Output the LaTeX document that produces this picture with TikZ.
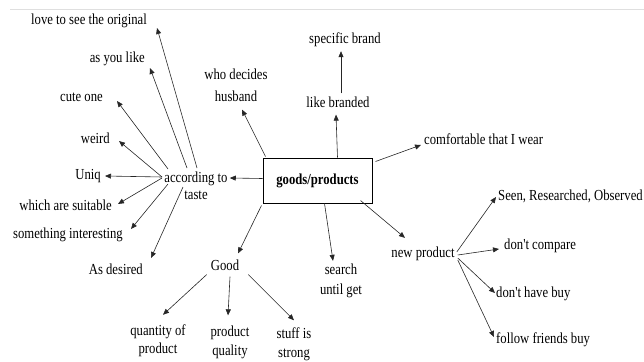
\documentclass[tikz,border=0pt]{standalone}
\usepackage{fontspec}
\setmainfont[FakeStretch=0.83,Ligatures=TeXOff]{Liberation Serif}
\usetikzlibrary{arrows.meta}
\begin{document}
\begin{tikzpicture}[x=1pt,y=-1pt,
  lbl/.style={inner sep=0pt, font=\fontsize{15.3}{17}\selectfont, align=center},
  arr/.style={-{Triangle[length=6pt,width=5pt]}, line width=0.6pt, draw=black!85},
  hub/.style={draw, line width=1pt, inner sep=0pt, minimum width=109pt, minimum height=45pt, font=\fontsize{15.3}{17}\selectfont\bfseries}]
\useasboundingbox (0,0) rectangle (644,361);
\draw[gray!25, line width=0.8pt] (10,9) -- (644,9);

% hub
\node[hub] (goods) at (317.5,180.5) {goods/products};

% according to
\node[lbl] (acc) at (196,186) {according to\\taste};
\node[lbl, anchor=east] (orig) at (147,21) {love to see the original};
\node[lbl, anchor=east] (asyou) at (145,59) {as you like};
\node[lbl, anchor=east] (cute) at (103,97) {cute one};
\node[lbl, anchor=east] (weird) at (110,138) {weird};
\node[lbl, anchor=east] (uniq) at (101,176) {Uniq};
\node[lbl, anchor=east] (suit) at (112,205) {which are suitable};
\node[lbl, anchor=east] (interest) at (123,235) {something interesting};
\node[lbl, anchor=east] (desired) at (143,269) {As desired};

% top
\node[lbl, font=\fontsize{15.3}{22}\selectfont] (who) at (236,85) {who decides\\husband};
\node[lbl] (liked) at (338,102) {like branded};
\node[lbl] (spec) at (345,40) {specific brand};
\node[lbl, anchor=west] (comf) at (424,139) {comfortable that I wear};

% bottom
\node[lbl, font=\fontsize{15.3}{20}\selectfont] (search) at (341,281) {search\\until get};
\node[lbl] (good) at (225,265) {Good};
\node[lbl, font=\fontsize{15.3}{18}\selectfont] (qty) at (158,341) {quantity of\\product};
\node[lbl, font=\fontsize{15.3}{19}\selectfont] (pq) at (230,342) {product\\quality};
\node[lbl, font=\fontsize{15.3}{19}\selectfont] (stuff) at (294,344) {stuff is\\strong};

% new product
\node[lbl] (newp) at (423,254) {new product};
\node[lbl, anchor=west] (seen) at (498,196) {Seen, Researched, Observed};
\node[lbl, anchor=west] (comp) at (504,246) {don't compare};
\node[lbl, anchor=west] (have) at (496,294) {don't have buy};
\node[lbl, anchor=west] (follow) at (496,340) {follow friends buy};

% connectors from hub
\draw[arr] ([shift={(0,-2)}]goods.west) -- ([shift={(2,-8)}]acc.east);
\draw[arr] ([shift={(3,-1)}]goods.north west) -- ([shift={(6,8)}]who.south);
\draw[arr] ([shift={(20,0)}]goods.north) -- ([shift={(-2,7)}]liked.south);
\draw[arr] ([shift={(3,-3)}]liked.north) -- ([shift={(-4,4)}]spec.south);
\draw[arr] ([shift={(3,4)}]goods.north east) -- ([shift={(-3,6)}]comf.west);
\draw[arr] ([shift={(-12,-3)}]goods.south east) -- ([shift={(-18,-9)}]newp.north);
\draw[arr] ([shift={(7,0)}]goods.south) -- ([shift={(-8,-3)}]search.north);
\draw[arr] ([shift={(-1,2)}]goods.south west) -- ([shift={(13,-6)}]good.north);

% according to fan
\draw[arr] ([shift={(1,-18)}]acc.center) -- ([shift={(10,7)}]orig.east);
\draw[arr] ([shift={(-9,-18)}]acc.center) -- ([shift={(5,9)}]asyou.east);
\draw[arr] ([shift={(-28,-17)}]acc.center) -- ([shift={(14,4)}]cute.east);
\draw[arr] ([shift={(-34,-9)}]acc.center) -- ([shift={(9,3)}]weird.east);
\draw[arr] ([shift={(-34,-9)}]acc.center) -- ([shift={(4,0)}]uniq.east);
\draw[arr] ([shift={(-34,-8)}]acc.center) -- ([shift={(6,-1)}]suit.east);
\draw[arr] ([shift={(-28,-2)}]acc.center) -- ([shift={(8,-6)}]interest.east);
\draw[arr] ([shift={(-13,1)}]acc.center) -- ([shift={(8,-11)}]desired.east);

% good
\draw[arr] ([shift={(-4,4)}]good.south west) -- ([shift={(5,-10)}]qty.north);
\draw[arr] ([shift={(5,6)}]good.south) -- ([shift={(-2,-10)}]pq.north);
\draw[arr] ([shift={(9,4)}]good.south east) -- ([shift={(0,-7)}]stuff.north);

% new product
\draw[arr] ([shift={(2,-2)}]newp.east) -- ([shift={(-2,1)}]seen.west);
\draw[arr] ([shift={(3,1)}]newp.east) -- ([shift={(-5,3)}]comp.west);
\draw[arr] ([shift={(3,4)}]newp.east) -- ([shift={(-1,-1)}]have.west);
\draw[arr] ([shift={(3,6)}]newp.east) -- ([shift={(-2,-3)}]follow.west);
\end{tikzpicture}
\end{document}
